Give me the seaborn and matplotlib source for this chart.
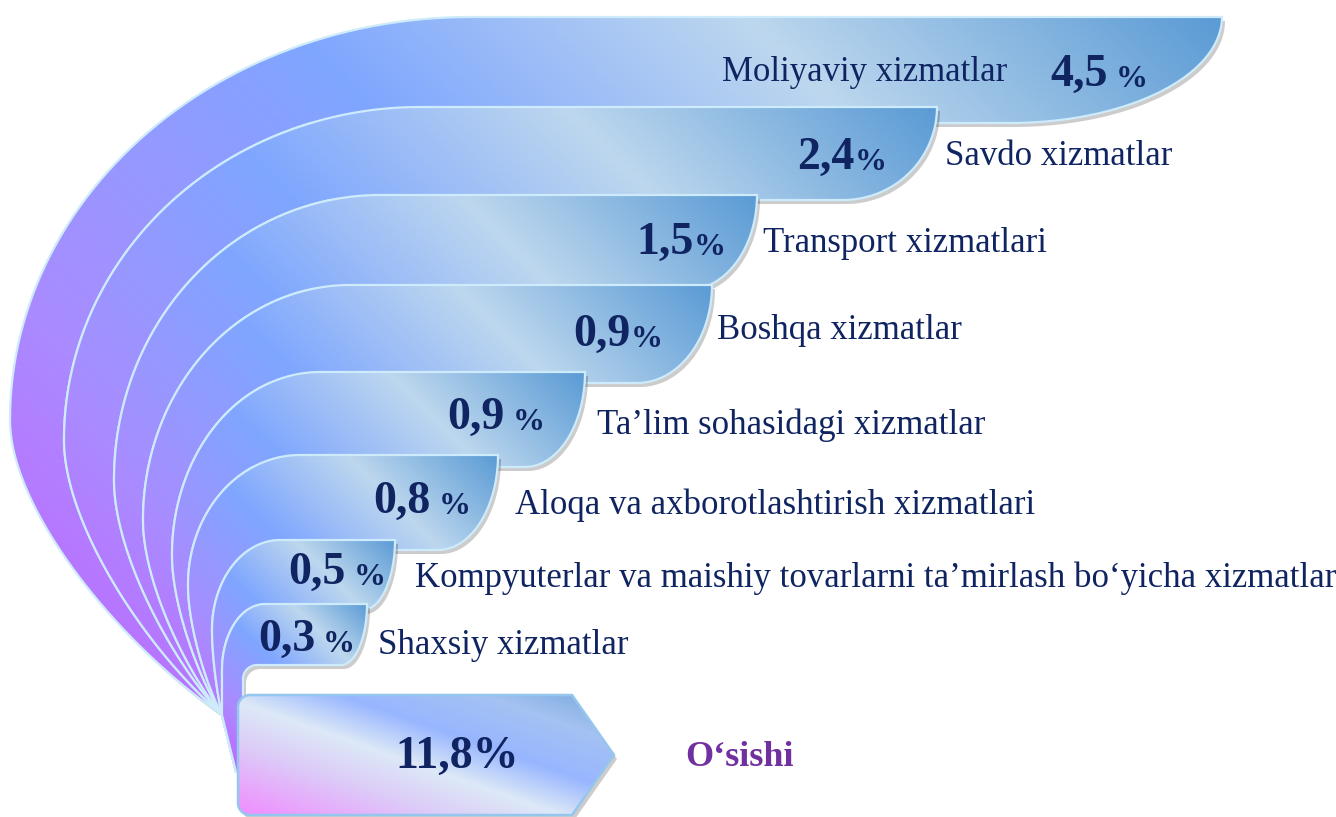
import numpy as np
import matplotlib
matplotlib.use("Agg")
import matplotlib.pyplot as plt
import seaborn as sns
from matplotlib.patches import Polygon
from matplotlib.colors import LinearSegmentedColormap

# data
categories = ["Moliyaviy xizmatlar", "Savdo xizmatlar", "Transport xizmatlari",
              "Boshqa xizmatlar", "Ta’lim sohasidagi xizmatlar",
              "Aloqa va axborotlashtirish xizmatlari",
              "Kompyuterlar va maishiy tovarlarni ta’mirlash bo‘yicha xizmatlar",
              "Shaxsiy xizmatlar"]
values = [4.5, 2.4, 1.5, 0.9, 0.9, 0.8, 0.5, 0.3]
total_value = 11.8
total_label = "O‘sishi"

# layout of the stacked ribbons (pixel coords, y down)
band_top = [17, 107, 195, 285, 372, 455, 540, 604]
band_bottom = [123, 200, 290, 383, 467, 550, 610, 665]
band_right = [1222, 937, 757, 712, 585, 498, 395, 367]
curve_w = [212, 94, 70, 75, 60, 60, 32, 26]
arc_start = [470, 420, 380, 350, 320, 300, 280, 265]
arc_left = [10, 64, 114, 143, 172, 188, 212, 222]
arc_mid = [420, 440, 480, 520, 555, 585, 630, 670]
num_x = [1050, 797, 636, 573, 447, 373, 288, 258]
num_y = [75, 158, 243, 335, 418, 502, 573, 640]
pct_gap = [8, 0, 0, 0, 8, 8, 8, 8]
lab_x = [722, 945, 763, 717, 597, 515, 415, 378]
lab_y = [72, 156, 243, 330, 425, 505, 578, 645]
conv = (222, 715)
tail = (236, 772)

sns.set_theme(style="white")
plt.rcParams['font.family'] = ['Liberation Serif', 'DejaVu Serif']

navy = "#0F2461"
edge = "#CDEBFA"
band_cmap = LinearSegmentedColormap.from_list("band", [
    (0.0, "#C75EFF"), (0.25, "#A98CFF"), (0.52, "#7FA6FF"),
    (0.76, "#BDD7EE"), (1.0, "#5B9BD5")])
box_cmap = LinearSegmentedColormap.from_list("box", [
    (0.0, "#F08CFF"), (0.28, "#DCCCF8"), (0.45, "#DDE9F7"),
    (0.62, "#98B6FF"), (0.82, "#A4C2F2"), (1.0, "#78A8DC")])

fig = plt.figure(figsize=(13.36, 8.17), dpi=100)
ax = fig.add_axes([0, 0, 1, 1])


def bezier(p0, p1, p2, p3, n=60):
    t = np.linspace(0, 1, n)[:, None]
    p0, p1, p2, p3 = map(np.asarray, (p0, p1, p2, p3))
    return (1 - t) ** 3 * p0 + 3 * (1 - t) ** 2 * t * p1 + 3 * (1 - t) * t ** 2 * p2 + t ** 3 * p3


def left_arc(i):
    th = np.linspace(0, np.pi / 2, 60)
    T, L, Ym, top = arc_start[i], arc_left[i], arc_mid[i], band_top[i]
    a = np.column_stack([T - (T - L) * np.sin(th), Ym - (Ym - top) * np.cos(th)])
    Xc, Yc = conv
    b = bezier((L, Ym), (L, Ym + 0.3 * (Yc - Ym)),
               (Xc - 0.5 * (Xc - L), Yc - 0.25 * (Yc - Ym)), (Xc, Yc))
    return np.vstack([a, b[1:], [tail]])


def gradient_patch(pts, cmap, k, z, ec=edge, lw=1.6, shadow=True):
    if shadow:
        ax.add_patch(Polygon(pts + np.array([3, 4]), closed=True, fc="#000000",
                             ec="none", alpha=0.2, zorder=z - 0.2))
    poly = Polygon(pts, closed=True, fc="none", ec=ec, lw=lw, zorder=z)
    ax.add_patch(poly)
    x0, y0 = pts.min(0)
    x1, y1 = pts.max(0)
    xx, yy = np.meshgrid(np.linspace(x0, x1, 300), np.linspace(y0, y1, 300))
    t = ((xx - x0) * k + (y1 - yy)) / ((x1 - x0) * k + (y1 - y0))
    im = ax.imshow(t, cmap=cmap, vmin=0, vmax=1, extent=(x0, x1, y1, y0),
                   origin="upper", interpolation="bilinear", aspect="auto",
                   zorder=z - 0.1)
    im.set_clip_path(poly)


arcs = [left_arc(i) for i in range(len(values))]

for i in range(len(values)):
    top, bot, R, a = band_top[i], band_bottom[i], band_right[i], curve_w[i]
    th = np.linspace(0, np.pi / 2, 40)
    right = np.column_stack([R - a + a * np.cos(th), top + (bot - top) * np.sin(th)])
    if i < len(values) - 1:
        nxt = arcs[i + 1]
        xi = np.interp(bot, nxt[:, 1], nxt[:, 0])
        inner = np.vstack([[xi, bot], nxt[nxt[:, 1] > bot]])
    else:
        xs, r = 243, 14
        ph = np.linspace(np.pi / 2, np.pi, 15)
        corner = np.column_stack([xs + r + r * np.cos(ph), bot + r - r * np.sin(ph)])
        inner = np.vstack([corner, [[xs, tail[1]]]])
    pts = np.vstack([arcs[i][::-1], [[R, top]], right, inner])
    gradient_patch(pts, band_cmap, 1.0, 2 + i)

    num = f"{values[i]:.1f}".replace(".", ",")
    tnum = ax.text(num_x[i], num_y[i], num, fontsize=33, fontweight="bold",
                   color=navy, ha="left", va="center", zorder=20)
    ax.annotate("%", xy=(1, 0), xycoords=tnum, xytext=(pct_gap[i], 2),
                textcoords="offset pixels", fontsize=23, fontweight="bold",
                color=navy, ha="left", va="bottom", zorder=20)
    ax.text(lab_x[i], lab_y[i], categories[i], fontsize=25, color=navy,
            ha="left", va="center", zorder=20)

# total arrow box
x0, x1, xp, y0, y1, r = 238, 572, 614, 695, 815, 12
ph = np.linspace(0, np.pi / 2, 12)
box = np.vstack([[[x0 + r, y0], [x1, y0], [xp, (y0 + y1) / 2], [x1, y1]],
                 np.column_stack([x0 + r - r * np.sin(ph), y1 - r + r * np.cos(ph)]),
                 np.column_stack([x0 + r - r * np.cos(ph), y0 + r - r * np.sin(ph)])])
gradient_patch(box, box_cmap, 0.35, 30, ec="#95C6EE", lw=1.8)

tot = f"{total_value:.1f}".replace(".", ",") + "%"
ax.text(457, 757, tot, fontsize=33, fontweight="bold", color=navy,
        ha="center", va="center", zorder=40)
ax.text(685, 757, total_label, fontsize=26, fontweight="bold", color="#7030A0",
        ha="left", va="center", zorder=40)

ax.set_xlim(0, 1336)
ax.set_ylim(817, 0)
ax.axis("off")
fig.savefig("out.png", dpi=100)
